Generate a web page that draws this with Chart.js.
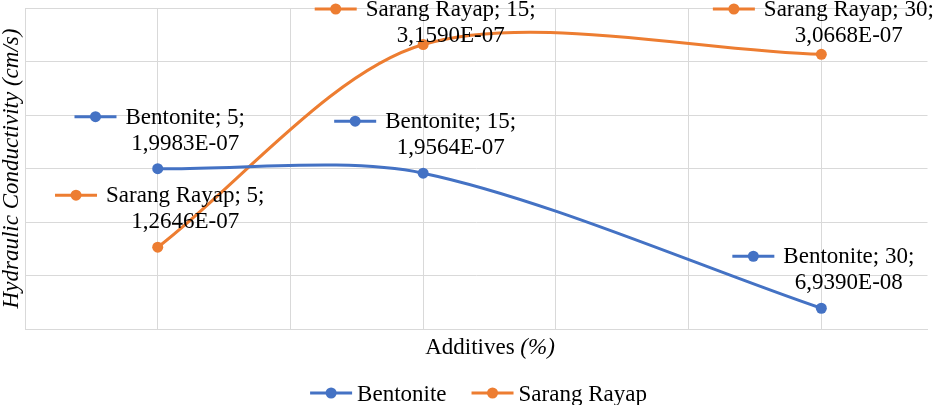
<!DOCTYPE html>
<html lang="en">
<head>
<meta charset="UTF-8">
<script src="https://cdn.jsdelivr.net/npm/chart.js"></script>
<title>Hydraulic Conductivity</title>
<style>
  html, body { margin: 0; padding: 0; background: #fff; }
  .chart-container { position: relative; width: 933px; height: 405px; }
</style>
</head>
<body>
<div class="chart-container">
    <canvas id="myChart"></canvas>
</div>
<script>
    // data
    var additives = [5, 15, 30]
    var bentonite = [1.9983e-7, 1.9564e-7, 6.939e-8]
    var sarangRayap = [1.2646e-7, 3.1590e-7, 3.0668e-7]
    var seriesNames = ['Bentonite', 'Sarang Rayap']
    var xGrid = [0, 5, 10, 15, 20, 25, 30]
    var yGrid = [0.5e-7, 1.0e-7, 1.5e-7, 2.0e-7, 2.5e-7, 3.0e-7, 3.5e-7]
    var xTitle = ['Additives ', '(%)']
    var yTitle = 'Hydraulic Conductivity (cm/s)'

    var colors = ['#4472C4', '#ED7D31']
    var FONT = "'Liberation Serif', 'Times New Roman', serif"
    var FS = 23

    function fmt(v) {
        var p = v.toExponential(4).split('e')
        var e = parseInt(p[1])
        var es = (e < 0 ? '-' : '+') + String(Math.abs(e)).padStart(2, '0')
        return p[0].replace('.', ',') + 'E' + es
    }

    function marker(ctx, x, y, color) {
        ctx.strokeStyle = color
        ctx.lineWidth = 3
        ctx.beginPath()
        ctx.moveTo(x, y)
        ctx.lineTo(x + 42, y)
        ctx.stroke()
        ctx.fillStyle = color
        ctx.beginPath()
        ctx.arc(x + 21, y, 5.5, 0, Math.PI * 2)
        ctx.fill()
    }

    var extras = {
        id: 'extras',
        afterDatasetsDraw: function(chart) {
            var ctx = chart.ctx
            ctx.save()
            ctx.font = FS + 'px ' + FONT
            ctx.textBaseline = 'alphabetic'
            // data labels
            chart.data.datasets.forEach(function(ds, di) {
                var meta = chart.getDatasetMeta(di)
                meta.data.forEach(function(pt, i) {
                    var l1 = ds.label + '; ' + additives[i] + ';'
                    var l2 = fmt(ds.data[i].y)
                    var tw = Math.max(ctx.measureText(l1).width, ctx.measureText(l2).width)
                    var total = 42 + 9 + tw
                    var left = pt.x + 2 - total / 2
                    var b1 = Math.max(16, pt.y - 45)
                    var b2 = b1 + 26
                    var tc = left + 51 + tw / 2
                    marker(ctx, left, b1 - 7, colors[di])
                    ctx.fillStyle = '#000'
                    ctx.textAlign = 'center'
                    ctx.fillText(l1, tc, b1)
                    ctx.fillText(l2, tc, b2)
                })
            })
            ctx.restore()
        },
        afterDraw: function(chart) {
            var ctx = chart.ctx
            var area = chart.chartArea
            ctx.save()
            ctx.fillStyle = '#000'
            // y title
            ctx.save()
            ctx.translate(12, (area.top + area.bottom) / 2)
            ctx.rotate(-Math.PI / 2)
            ctx.font = 'italic ' + FS + 'px ' + FONT
            ctx.textAlign = 'center'
            ctx.textBaseline = 'middle'
            ctx.fillText(yTitle, 0, 0)
            ctx.restore()
            // x title, mixed style
            ctx.textAlign = 'left'
            ctx.textBaseline = 'alphabetic'
            var fa = FS + 'px ' + FONT
            var fb = 'italic ' + FS + 'px ' + FONT
            ctx.font = fa
            var wa = ctx.measureText(xTitle[0]).width
            ctx.font = fb
            var wb = ctx.measureText(xTitle[1]).width
            var cx = 490
            var x0 = cx - (wa + wb) / 2
            ctx.font = fa
            ctx.fillText(xTitle[0], x0, 354)
            ctx.font = fb
            ctx.fillText(xTitle[1], x0 + wa, 354)
            // legend
            ctx.font = fa
            var widths = seriesNames.map(function(n) { return 40 + 6 + ctx.measureText(n).width })
            var full = widths[0] + 26 + widths[1]
            var lx = 479 - full / 2
            seriesNames.forEach(function(n, i) {
                marker(ctx, lx - 1, 393, colors[i])
                ctx.fillStyle = '#000'
                ctx.fillText(n, lx + 46, 401)
                lx += widths[i] + 26
            })
            ctx.restore()
        }
    }

    var ctx = document.getElementById('myChart')
    var myChart = new Chart(ctx, {
        type: 'line',
        data: {
            datasets: [{
                label: seriesNames[0],
                data: additives.map(function(x, i) { return { x: x, y: bentonite[i] } }),
                borderColor: colors[0],
                backgroundColor: colors[0],
                borderWidth: 3,
                pointRadius: 5.5,
                pointBorderWidth: 0,
                tension: 0.3
            }, {
                label: seriesNames[1],
                data: additives.map(function(x, i) { return { x: x, y: sarangRayap[i] } }),
                borderColor: colors[1],
                backgroundColor: colors[1],
                borderWidth: 3,
                pointRadius: 5.5,
                pointBorderWidth: 0,
                tension: 0.3
            }]
        },
        options: {
            responsive: true,
            maintainAspectRatio: false,
            animation: false,
            layout: { padding: { left: 25, top: 8, right: 0, bottom: 0 } },
            plugins: {
                legend: { display: false },
                tooltip: { enabled: false }
            },
            scales: {
                x: {
                    type: 'linear',
                    min: 0,
                    max: 34.0,
                    afterBuildTicks: function(s) { s.ticks = xGrid.map(function(v) { return { value: v } }) },
                    afterFit: function(s) { s.height = 76 },
                    ticks: { display: false },
                    grid: { color: '#d9d9d9', lineWidth: 1, drawTicks: false },
                    border: { display: true, color: '#d9d9d9', width: 1 }
                },
                y: {
                    min: 0.5e-7,
                    max: 3.5e-7,
                    afterBuildTicks: function(s) { s.ticks = yGrid.map(function(v) { return { value: v } }) },
                    afterFit: function(s) { s.width = 0 },
                    ticks: { display: false },
                    grid: { color: '#d9d9d9', lineWidth: 1, drawTicks: false },
                    border: { display: true, color: '#d9d9d9', width: 1 }
                }
            }
        },
        plugins: [extras]
    })
</script>
</body>
</html>
